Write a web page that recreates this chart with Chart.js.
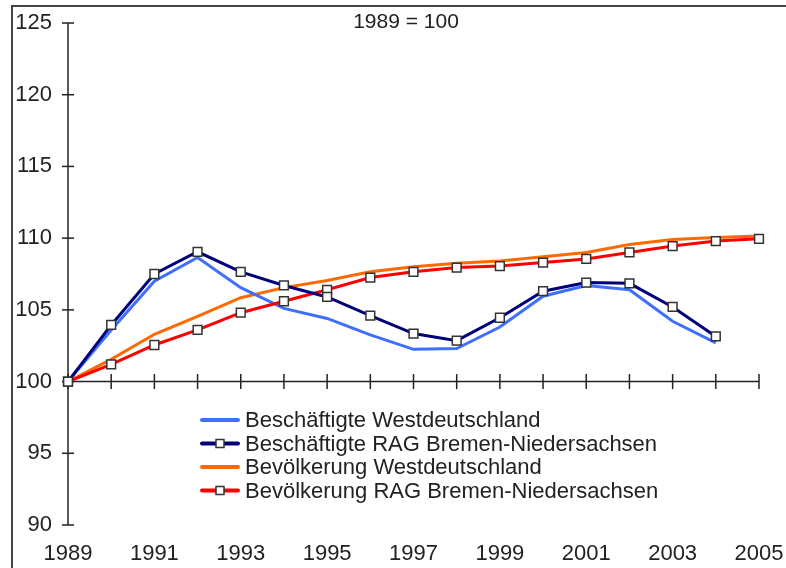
<!DOCTYPE html>
<html>
<head>
<meta charset="utf-8">
<script src="https://cdn.jsdelivr.net/npm/chart.js@4/dist/chart.umd.min.js"></script>
<style>
  html, body { margin: 0; padding: 0; background: #fff; }
  #wrap { position: relative; width: 786px; height: 568px; overflow: hidden; }
  #frame { position: absolute; left: 11px; top: 5px; width: 800px; height: 600px;
           border-left: 2px solid #444; border-top: 2px solid #444; box-sizing: border-box; }
  canvas { position: absolute; left: 0; top: 0; }
</style>
</head>
<body>
<div id="wrap">
  <div id="frame"></div>
  <canvas id="c" width="786" height="568"></canvas>
</div>
<script>
// ---- data ----
const years = ['1989','1990','1991','1992','1993','1994','1995','1996','1997','1998','1999','2000','2001','2002','2003','2004','2005'];
const beschWest = [100, 103.6, 107.0, 108.65, 106.55, 105.1, 104.4, 103.25, 102.25, 102.3, 103.8, 105.95, 106.7, 106.4, 104.2, 102.7, null];
const beschRAG  = [100, 103.95, 107.5, 109.05, 107.65, 106.7, 105.9, 104.6, 103.35, 102.85, 104.45, 106.3, 106.9, 106.85, 105.2, 103.15, null];
const bevWest   = [100, 101.55, 103.3, 104.55, 105.85, 106.55, 107.05, 107.65, 108.0, 108.25, 108.4, 108.7, 109.0, 109.55, 109.9, 110.05, 110.15];
const bevRAG    = [100, 101.2, 102.55, 103.6, 104.8, 105.6, 106.4, 107.25, 107.65, 107.95, 108.05, 108.3, 108.55, 109.0, 109.45, 109.8, 109.95];
const seriesNames = ['Beschäftigte Westdeutschland', 'Beschäftigte RAG Bremen-Niedersachsen', 'Bevölkerung Westdeutschland', 'Bevölkerung RAG Bremen-Niedersachsen'];
const yTicks = [90, 95, 100, 105, 110, 115, 120, 125];
const titleText = '1989 = 100';

// ---- styles ----
const FONT = '"Liberation Sans", Arial, sans-serif';
const TEXT = '#222';
const colors = ['#3f6fff', '#00007a', '#ff6a00', '#ff0000'];
const hasMarker = [false, true, false, true];

Chart.defaults.font.family = FONT;
Chart.defaults.font.size = 22;
Chart.defaults.color = TEXT;

const axisPlugin = {
  id: 'axisPlugin',
  beforeDatasetsDraw(chart) {
    const ctx = chart.ctx;
    const xs = chart.scales.x, ys = chart.scales.y;
    ctx.save();
    ctx.strokeStyle = '#222';
    ctx.lineWidth = 1.5;
    const y100 = ys.getPixelForValue(100);
    ctx.beginPath();
    ctx.moveTo(xs.getPixelForValue(0), y100);
    ctx.lineTo(xs.getPixelForValue(years.length - 1), y100);
    ctx.stroke();
    for (let i = 0; i < years.length; i++) {
      const px = xs.getPixelForValue(i);
      ctx.beginPath();
      ctx.moveTo(px, y100 - 7.5);
      ctx.lineTo(px, y100 + 7.5);
      ctx.stroke();
    }
    const x0 = xs.getPixelForValue(0);
    ctx.beginPath();
    ctx.moveTo(x0, ys.getPixelForValue(yTicks[yTicks.length - 1]));
    ctx.lineTo(x0, ys.getPixelForValue(yTicks[0]));
    ctx.stroke();
    for (const v of yTicks) {
      const py = ys.getPixelForValue(v);
      ctx.beginPath();
      ctx.moveTo(x0 - 6, py);
      ctx.lineTo(x0 + 6, py);
      ctx.stroke();
    }
    ctx.restore();
  },
  afterDraw(chart) {
    const ctx = chart.ctx;
    ctx.save();
    ctx.fillStyle = TEXT;
    ctx.font = '21px ' + FONT;
    ctx.textAlign = 'center';
    ctx.textBaseline = 'middle';
    ctx.fillText(titleText, 406, 22);
    const lx = 200, lw = 40, tx = 245;
    const rows = [420, 443.5, 467, 490.5];
    ctx.font = '22px ' + FONT;
    ctx.textAlign = 'left';
    for (let i = 0; i < seriesNames.length; i++) {
      const ry = rows[i];
      ctx.strokeStyle = colors[i];
      ctx.lineWidth = 4;
      ctx.lineCap = 'round';
      ctx.beginPath();
      ctx.moveTo(lx + 2, ry);
      ctx.lineTo(lx + lw - 2, ry);
      ctx.stroke();
      if (hasMarker[i]) {
        ctx.fillStyle = '#fff';
        ctx.strokeStyle = '#333';
        ctx.lineWidth = 1.5;
        ctx.fillRect(lx + lw / 2 - 4, ry - 4, 8, 8);
        ctx.strokeRect(lx + lw / 2 - 4, ry - 4, 8, 8);
      }
      ctx.fillStyle = TEXT;
      ctx.fillText(seriesNames[i], tx, ry + 1);
    }
    ctx.restore();
  }
};

const seriesData = [beschWest, beschRAG, bevWest, bevRAG];
const orders = [3, 1, 4, 2];
const datasets = seriesData.map((d, i) => ({
  label: seriesNames[i],
  data: d,
  borderColor: colors[i],
  backgroundColor: colors[i],
  borderWidth: 3,
  tension: 0,
  spanGaps: false,
  order: orders[i],
  pointStyle: 'rect',
  pointRadius: hasMarker[i] ? 6.2 : 0,
  pointHoverRadius: hasMarker[i] ? 6.2 : 0,
  pointBackgroundColor: '#fff',
  pointBorderColor: '#333',
  pointBorderWidth: 1.5
}));

new Chart(document.getElementById('c'), {
  type: 'line',
  data: { labels: years, datasets },
  plugins: [axisPlugin],
  options: {
    responsive: false,
    animation: false,
    events: [],
    layout: { padding: { top: 23, right: 27, bottom: 0, left: 0 } },
    plugins: { legend: { display: false }, tooltip: { enabled: false }, title: { display: false } },
    scales: {
      x: {
        type: 'category',
        offset: false,
        grid: { display: false, drawTicks: false },
        border: { display: false },
        ticks: {
          autoSkip: false, maxRotation: 0, padding: 16,
          callback: function (v, i) { return (i % 2 === 0) ? years[i] : ''; }
        },
        afterFit(scale) { scale.height = 43; scale.paddingLeft = 0; scale.paddingRight = 0; }
      },
      y: {
        min: 90, max: 125,
        grid: { display: false, drawTicks: false },
        border: { display: false },
        ticks: { stepSize: 5, padding: 16 },
        afterFit(scale) { scale.width = 68; scale.paddingTop = 0; scale.paddingBottom = 0; }
      }
    }
  }
});
</script>
</body>
</html>
